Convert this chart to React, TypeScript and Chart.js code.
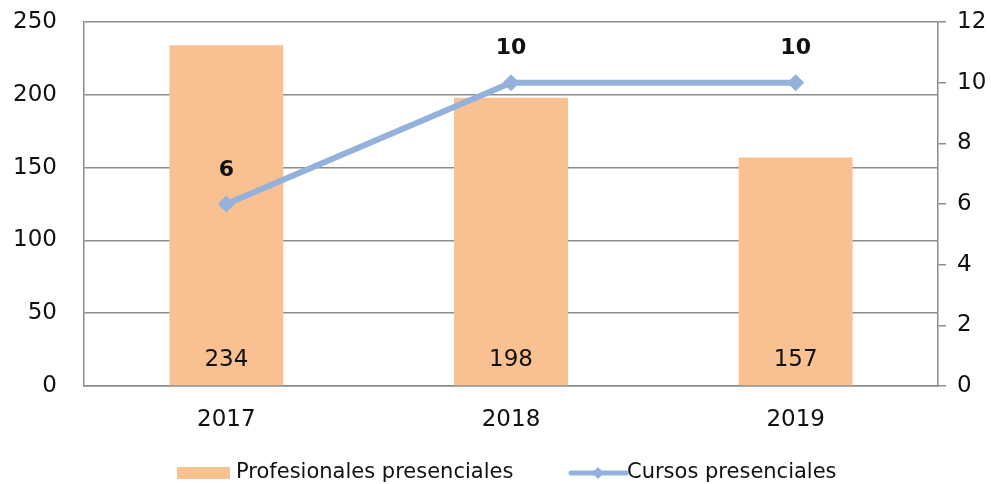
import React, { useEffect, useRef } from "react";
import { Chart, registerables } from "chart.js";

Chart.register(...registerables);

const categories = ["2017", "2018", "2019"];
const profesionales = [234, 198, 157];
const cursos = [6, 10, 10];
const leftTicks = [0, 50, 100, 150, 200, 250];
const rightTicks = [0, 2, 4, 6, 8, 10, 12];
const seriesNames = ["Profesionales presenciales", "Cursos presenciales"];

const BAR_COLOR = "#F9C191";
const LINE_COLOR = "#93B1DB";
const GRID_COLOR = "#8C8C8C";
const FONT = "'DejaVu Sans', sans-serif";

export default function App() {
  const ref = useRef<HTMLCanvasElement | null>(null);

  useEffect(() => {
    if (!ref.current) return;
    const labelsPlugin = {
      id: "labelsPlugin",
      afterDatasetsDraw(chart: any) {
        const ctx = chart.ctx;
        ctx.save();
        ctx.fillStyle = "#111";
        ctx.textAlign = "center";
        ctx.textBaseline = "middle";
        const barMeta = chart.getDatasetMeta(0);
        ctx.font = `23px ${FONT}`;
        barMeta.data.forEach((el: any, i: number) => {
          const base = chart.scales.y.getPixelForValue(0);
          ctx.fillText(String(profesionales[i]), el.x, base - 26);
        });
        const lineMeta = chart.getDatasetMeta(1);
        ctx.font = `bold 22px ${FONT}`;
        lineMeta.data.forEach((el: any, i: number) => {
          ctx.fillText(String(cursos[i]), el.x, el.y - 34);
        });
        ctx.restore();
      },
      afterDraw(chart: any) {
        const ctx = chart.ctx;
        ctx.save();
        const cy = 473;
        ctx.fillStyle = BAR_COLOR;
        ctx.fillRect(177, cy - 6, 53, 12);
        ctx.fillStyle = "#111";
        ctx.font = `21px ${FONT}`;
        ctx.textAlign = "left";
        ctx.textBaseline = "middle";
        ctx.fillText(seriesNames[0], 236, cy);
        ctx.strokeStyle = LINE_COLOR;
        ctx.lineWidth = 5;
        ctx.lineCap = "round";
        ctx.beginPath();
        ctx.moveTo(571, cy);
        ctx.lineTo(626, cy);
        ctx.stroke();
        ctx.fillStyle = LINE_COLOR;
        ctx.beginPath();
        ctx.moveTo(598, cy - 6);
        ctx.lineTo(604, cy);
        ctx.lineTo(598, cy + 6);
        ctx.lineTo(592, cy);
        ctx.closePath();
        ctx.fill();
        ctx.fillStyle = "#111";
        ctx.fillText(seriesNames[1], 627, cy);
        ctx.restore();
      },
    };

    const chart = new Chart(ref.current, {
      type: "bar",
      data: {
        labels: categories,
        datasets: [
          {
            type: "bar",
            label: seriesNames[0],
            data: profesionales,
            backgroundColor: BAR_COLOR,
            yAxisID: "y",
            barPercentage: 0.4,
            categoryPercentage: 1,
            order: 2,
          },
          {
            type: "line",
            label: seriesNames[1],
            data: cursos,
            borderColor: LINE_COLOR,
            backgroundColor: LINE_COLOR,
            borderWidth: 6,
            pointStyle: "rectRot",
            pointRadius: 8,
            pointBorderWidth: 1,
            yAxisID: "y1",
            order: 1,
          } as any,
        ],
      },
      options: {
        animation: false,
        responsive: false,
        layout: { padding: { top: 22, bottom: 38, left: 0, right: 0 } },
        plugins: { legend: { display: false }, tooltip: { enabled: false } },
        scales: {
          x: {
            grid: { display: false, drawTicks: false },
            border: { color: GRID_COLOR, width: 1.5 },
            ticks: { font: { family: FONT, size: 23 }, color: "#111", padding: 20 },
            afterFit(scale: any) {
              scale.height = 60;
              scale.paddingLeft = 0;
              scale.paddingRight = 0;
            },
          },
          y: {
            position: "left",
            min: 0,
            max: 250,
            afterBuildTicks(scale: any) {
              scale.ticks = leftTicks.map((v) => ({ value: v }));
            },
            grid: { color: GRID_COLOR, lineWidth: 1.5, drawTicks: false },
            border: { color: GRID_COLOR, width: 1.5 },
            ticks: { font: { family: FONT, size: 23 }, color: "#111", padding: 27 },
            afterFit(scale: any) {
              scale.width = 84;
              scale.paddingTop = 0;
              scale.paddingBottom = 0;
            },
          },
          y1: {
            position: "right",
            min: 0,
            max: 12,
            afterBuildTicks(scale: any) {
              scale.ticks = rightTicks.map((v) => ({ value: v }));
            },
            grid: { drawOnChartArea: false, color: GRID_COLOR, lineWidth: 1.5, tickLength: 8 },
            border: { color: GRID_COLOR, width: 1.5 },
            ticks: { font: { family: FONT, size: 23 }, color: "#111", padding: 11 },
            afterFit(scale: any) {
              scale.width = 53;
              scale.paddingTop = 0;
              scale.paddingBottom = 0;
            },
          },
        },
      } as any,
      plugins: [labelsPlugin],
    });
    return () => chart.destroy();
  }, []);

  return (
    <div style={{ position: "fixed", left: 0, top: 0, width: 991, height: 484, background: "#fff" }}>
      <canvas ref={ref} width={991} height={484} style={{ width: 991, height: 484 }} />
    </div>
  );
}
